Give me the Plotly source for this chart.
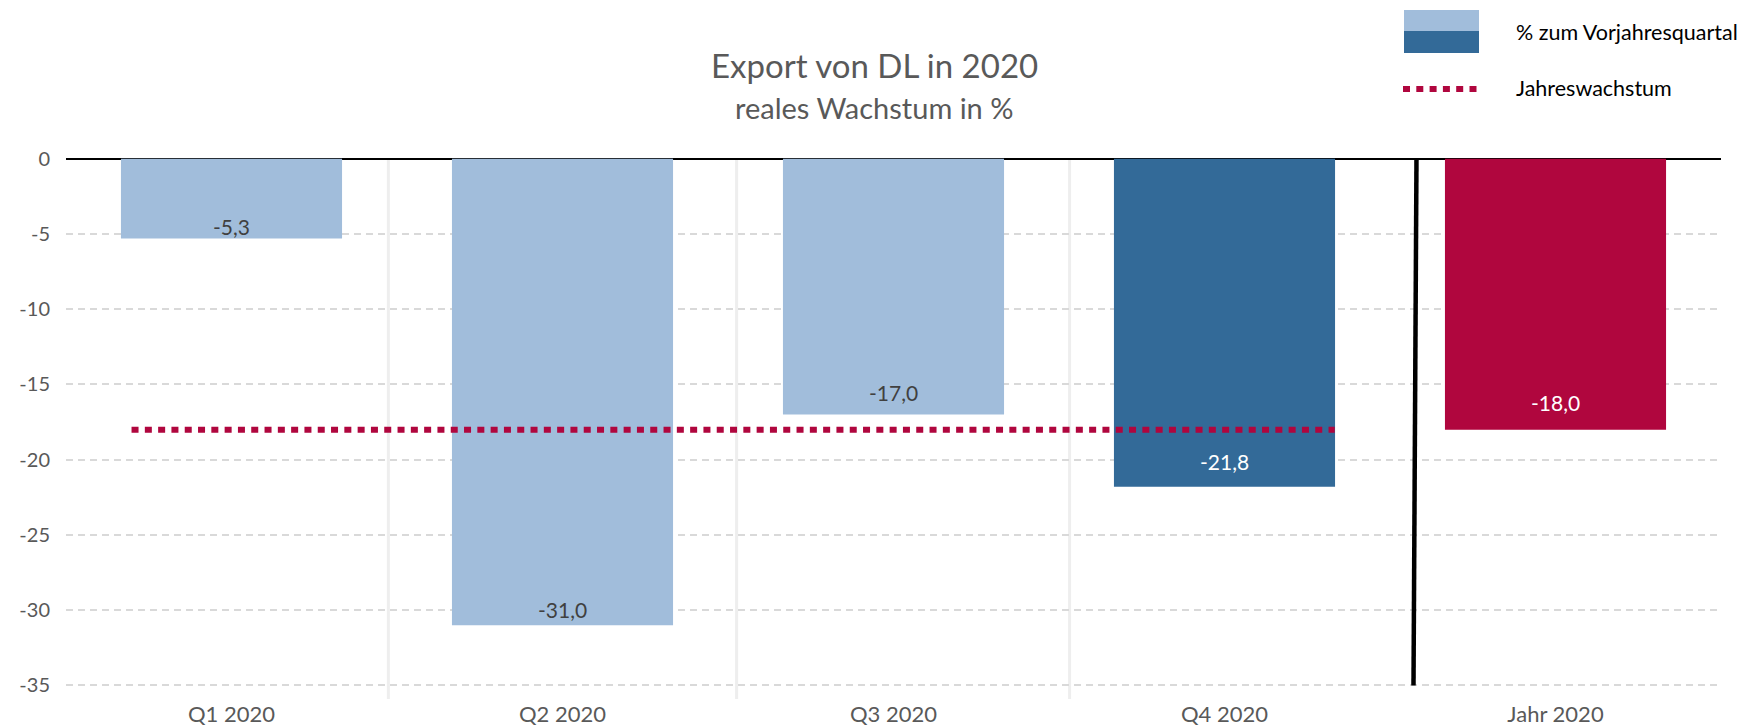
import plotly.graph_objects as go

# ---------------- data ----------------
categories = ["Q1 2020", "Q2 2020", "Q3 2020", "Q4 2020", "Jahr 2020"]
values = [-5.3, -31.0, -17.0, -21.8, -18.0]
annual_growth = -18.0
y_ticks = [0, -5, -10, -15, -20, -25, -30, -35]

title_text = "Export von DL in 2020"
subtitle_text = "reales Wachstum in %"
legend_bar = "% zum Vorjahresquartal"
legend_line = "Jahreswachstum"

# ---------------- styles ----------------
LIGHT = "#A1BDDB"
DARK = "#336A98"
RED = "#B0063E"
GREY_TXT = "#595959"
FONT = "Lato"

bar_colors = [LIGHT, LIGHT, LIGHT, DARK, RED]
text_colors = ["#404040", "#404040", "#404040", "#FFFFFF", "#FFFFFF"]
label_lift = [12, 16, 22, 25, 27]  # px above the bar end (label placement)
labels = [f"{v:.1f}".replace(".", ",") for v in values]

# page offset of the plot div (default body margin)
OX, OY = 8, 8
W = 1750 - OX
H = 726 - OY
# plot area in page pixels: x 66..1721, y 155..699
ML = 66 - OX
MT = 155 - OY
MR = W - ML - (1721 - 66)
MB = H - MT - (699 - 155)
PW, PH = W - ML - MR, H - MT - MB


def px_x(x):
    # page pixel -> paper fraction
    return (x - OX - ML) / PW


def px_y(y):
    return (H - MB - (y - OY)) / PH


fig = go.Figure()
fig.add_trace(go.Bar(
    x=categories, y=values,
    marker=dict(color=bar_colors, line=dict(width=0)),
    width=0.668,
    showlegend=False,
    hoverinfo="x+y",
))

shapes = []
# light separators between quarters
for xs in [0.474, 1.526, 2.532]:
    shapes.append(dict(type="line", xref="x", yref="y", x0=xs, x1=xs, y0=0, y1=-35.9,
                       line=dict(color="#EEEEEE", width=3), layer="below"))
# black separator before annual bar
shapes.append(dict(type="line", xref="x", yref="y", x0=3.580, x1=3.571, y0=0, y1=-35,
                   line=dict(color="#000000", width=4.5), layer="above"))
# annual growth dotted line
shapes.append(dict(type="line", xref="x", yref="y", x0=-0.302, x1=3.333,
                   y0=annual_growth, y1=annual_growth,
                   line=dict(color=RED, width=6, dash="7px,6.3px"), layer="above"))

# manual legend
shapes.append(dict(type="rect", xref="paper", yref="paper",
                   x0=px_x(1404), x1=px_x(1479), y0=px_y(31), y1=px_y(10),
                   fillcolor=LIGHT, line=dict(width=0)))
shapes.append(dict(type="rect", xref="paper", yref="paper",
                   x0=px_x(1404), x1=px_x(1479), y0=px_y(53), y1=px_y(31),
                   fillcolor=DARK, line=dict(width=0)))
shapes.append(dict(type="line", xref="paper", yref="paper",
                   x0=px_x(1403), x1=px_x(1478), y0=px_y(89), y1=px_y(89),
                   line=dict(color=RED, width=6, dash="7px,6.3px")))

annotations = [
    dict(text=title_text, xref="paper", yref="paper", x=px_x(874), y=px_y(65),
         xanchor="center", yanchor="middle", showarrow=False,
         font=dict(family=FONT, size=33, color=GREY_TXT)),
    dict(text=subtitle_text, xref="paper", yref="paper", x=px_x(874), y=px_y(108),
         xanchor="center", yanchor="middle", showarrow=False,
         font=dict(family=FONT, size=29, color=GREY_TXT)),
    dict(text=legend_bar, xref="paper", yref="paper", x=px_x(1514), y=px_y(32),
         xanchor="left", yanchor="middle", showarrow=False,
         font=dict(family=FONT, size=21.5, color="#000000")),
    dict(text=legend_line, xref="paper", yref="paper", x=px_x(1514), y=px_y(88),
         xanchor="left", yanchor="middle", showarrow=False,
         font=dict(family=FONT, size=21.5, color="#000000")),
]
# value labels inside the bars
for cat, val, lab, col, lift in zip(categories, values, labels, text_colors, label_lift):
    annotations.append(dict(text=lab, xref="x", yref="y", x=cat, y=val,
                            xanchor="center", yanchor="middle", yshift=lift,
                            showarrow=False,
                            font=dict(family=FONT, size=21, color=col)))

fig.update_layout(
    width=W, height=H,
    margin=dict(l=ML, r=MR, t=MT, b=MB, autoexpand=False),
    paper_bgcolor="white", plot_bgcolor="white",
    shapes=shapes, annotations=annotations,
    xaxis=dict(
        type="category", showgrid=False, showline=False, zeroline=False, ticks="",
        tickfont=dict(family=FONT, size=22, color=GREY_TXT),
        range=[-0.5, 4.5],
    ),
    yaxis=dict(
        range=[-35.9, 0.25], tickvals=y_ticks, ticktext=[str(v) for v in y_ticks],
        showgrid=True, gridcolor="#D9D9D9", gridwidth=2, griddash="7px,5px",
        zeroline=True, zerolinecolor="#000000", zerolinewidth=2,
        showline=False, ticks="",
        tickfont=dict(family=FONT, size=20, color=GREY_TXT),
        ticklabelstandoff=15,
    ),
    font=dict(family=FONT),
)

fig.write_html("out.html")
